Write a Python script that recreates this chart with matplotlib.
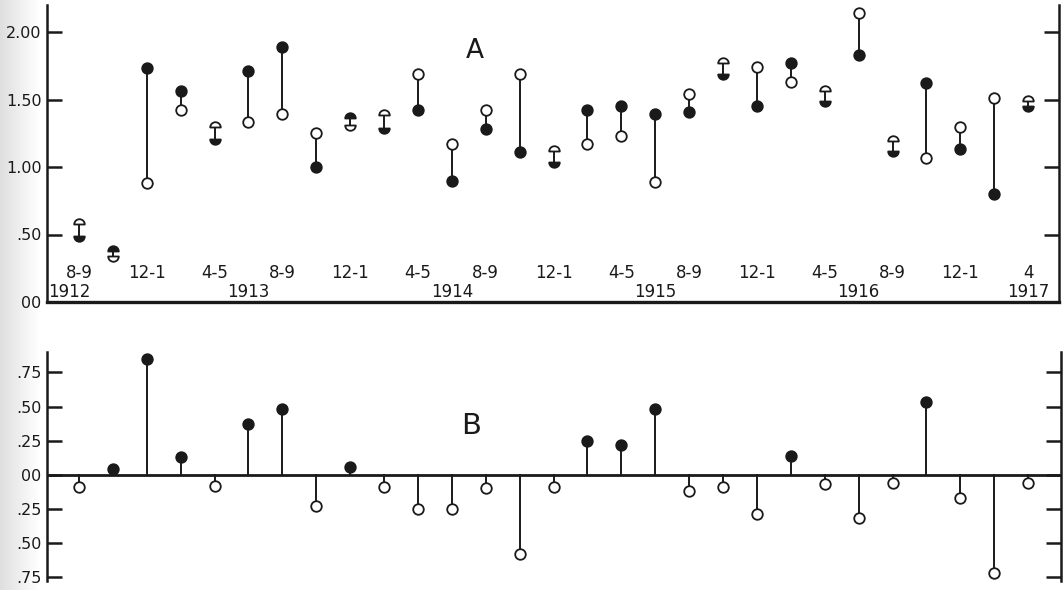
import numpy as np
import matplotlib
matplotlib.use("Agg")
import matplotlib.pyplot as plt
from matplotlib.path import Path
import matplotlib.transforms as mtransforms

# ---------------- data ----------------
month_labels = ["8-9", "12-1", "4-5", "8-9", "12-1", "4-5", "8-9", "12-1",
                "4-5", "8-9", "12-1", "4-5", "8-9", "12-1", "4"]
year_labels = ["1912", "1913", "1914", "1915", "1916", "1917"]

# Panel A: filled (dark) and open circle values for 29 bimonthly periods
dark_vals = [0.49, 0.38, 1.73, 1.56, 1.21, 1.71, 1.89, 1.00, 1.36, 1.29,
             1.42, 0.90, 1.28, 1.11, 1.04, 1.42, 1.45, 1.39, 1.41, 1.69,
             1.45, 1.77, 1.49, 1.83, 1.12, 1.62, 1.13, 0.80, 1.45]
open_vals = [0.58, 0.34, 0.88, 1.42, 1.30, 1.33, 1.39, 1.25, 1.31, 1.385,
             1.69, 1.17, 1.42, 1.69, 1.12, 1.17, 1.23, 0.89, 1.54, 1.77,
             1.74, 1.63, 1.56, 2.14, 1.19, 1.07, 1.30, 1.51, 1.49]

# Panel B: differences
diff_vals = [-0.09, 0.045, 0.85, 0.13, -0.08, 0.37, 0.48, -0.23, 0.06, -0.09,
             -0.25, -0.25, -0.10, -0.58, -0.09, 0.25, 0.22, 0.48, -0.12, -0.09,
             -0.29, 0.14, -0.07, -0.32, -0.06, 0.53, -0.17, -0.72, -0.06]

ticksA = [0.0, 0.5, 1.0, 1.5, 2.0]
ticklabA = ["00", ".50", "1.00", "1.50", "2.00"]
ticksB = [-0.75, -0.5, -0.25, 0.0, 0.25, 0.5, 0.75]
ticklabB = [".75", ".50", ".25", "00", ".25", ".50", ".75"]

# ---------------- figure ----------------
W, H = 1063, 590
fig = plt.figure(figsize=(W / 100, H / 100), dpi=100)
fig.patch.set_facecolor("white")

# scanned-page grey edge on the left
bg = fig.add_axes([0, 0, 40 / W, 1], zorder=-10)
grad = np.linspace(0.82, 1.0, 64) ** 0.7
bg.imshow(np.tile(grad, (2, 1)), cmap="gray", vmin=0, vmax=1, aspect="auto",
          extent=[0, 1, 0, 1])
bg.axis("off")

plt.rcParams["font.family"] = ["DejaVu Sans"]
INK = "#1a1a1a"
n = len(dark_vals)
x = np.arange(n)

def half(top=True):
    arc = Path.arc(0, 180) if top else Path.arc(180, 360)
    v = np.vstack([arc.vertices, arc.vertices[:1]])
    c = np.append(arc.codes, Path.CLOSEPOLY)
    return Path(v, c)

TOP, BOT = half(True), half(False)

def style_axis(ax, ticks, labels, ylim, xlim):
    ax.set_xlim(*xlim)
    ax.set_ylim(*ylim)
    ax.set_facecolor("none")
    ax.set_yticks(ticks)
    ax.set_yticklabels(labels)
    ax.set_xticks([])
    ax.tick_params(axis="y", which="both", direction="in", length=11,
                   width=1.8, color=INK, labelsize=11.5, labelcolor=INK,
                   pad=4, right=True, left=True)
    for s in ("left", "right"):
        ax.spines[s].set_linewidth(1.8)
        ax.spines[s].set_color(INK)
    ax.spines["top"].set_visible(False)

# ---------------- panel A ----------------
axA = fig.add_axes([47 / W, 1 - 302 / H, (1059 - 47) / W, (302 - 5) / H])
style_axis(axA, ticksA, ticklabA, (0, 2.2), (-0.944, 28.91))
axA.spines["bottom"].set_linewidth(2.4)
axA.spines["bottom"].set_color(INK)

ms = 7.6
for xi, d, o in zip(x, dark_vals, open_vals):
    axA.plot([xi, xi], [d, o], color=INK, lw=1.4, zorder=2)
    if abs(d - o) < 0.12:
        dm = TOP if d > o else BOT
        om = TOP if o > d else BOT
        axA.plot(xi, d, marker=dm, ms=ms, mfc=INK, mec=INK, mew=1.3,
                 ls="none", zorder=3)
        axA.plot(xi, o, marker=om, ms=ms, mfc="white", mec=INK, mew=1.3,
                 ls="none", zorder=3)
    else:
        axA.plot(xi, d, marker="o", ms=ms, mfc=INK, mec=INK, mew=1.3,
                 ls="none", zorder=3)
        axA.plot(xi, o, marker="o", ms=ms, mfc="white", mec=INK, mew=1.3,
                 ls="none", zorder=3)

transA = mtransforms.blended_transform_factory(axA.transData, axA.transAxes)
for i, lab in enumerate(month_labels):
    axA.text(2 * i, 0.098, lab, transform=transA, ha="center", va="center",
             fontsize=12, color=INK)
year_pos = [-0.3, 5, 11, 17, 23, 28]
for p, lab in zip(year_pos, year_labels):
    axA.text(p, 0.034, lab, transform=transA, ha="center", va="center",
             fontsize=12, color=INK)
axA.text(11.68, 0.845, "A", transform=transA, ha="center", va="center",
         fontsize=19, color=INK)

# ---------------- panel B ----------------
axB = fig.add_axes([47 / W, 1 - 581 / H, (1061 - 47) / W, (581 - 352) / H])
style_axis(axB, ticksB, ticklabB, (-0.78, 0.90), (-0.944, 28.97))
axB.spines["bottom"].set_visible(False)
axB.axhline(0, color=INK, lw=2.0, zorder=1)

for xi, v in zip(x, diff_vals):
    axB.plot([xi, xi], [0, v], color=INK, lw=1.4, zorder=2)
    if v > 0:
        axB.plot(xi, v, marker="o", ms=ms, mfc=INK, mec=INK, mew=1.3,
                 ls="none", zorder=3)
    else:
        axB.plot(xi, v, marker="o", ms=ms, mfc="white", mec=INK, mew=1.3,
                 ls="none", zorder=3)

axB.text(11.56, 0.36, "B", ha="center", va="center", fontsize=21, color=INK)

fig.savefig("out.png", dpi=100)
